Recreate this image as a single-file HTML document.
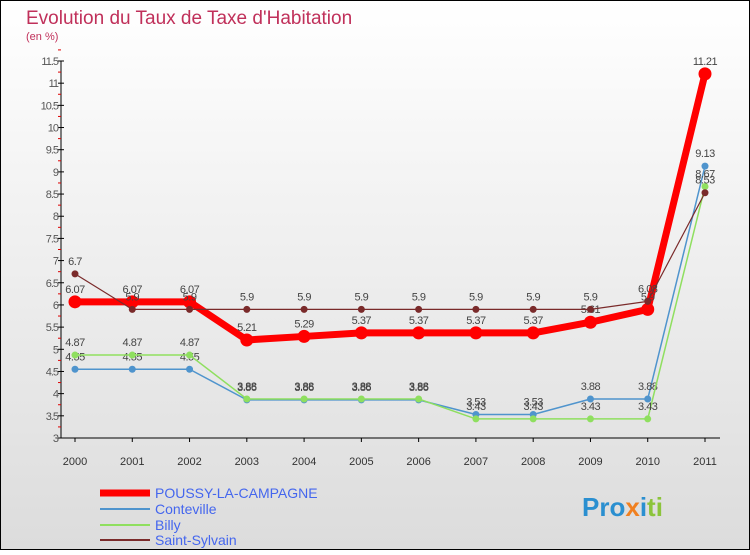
<!DOCTYPE html>
<html><head><meta charset="utf-8"><style>
body{margin:0}
#c{width:750px;height:550px;position:relative;font-family:"Liberation Sans",sans-serif;}
svg text{font-family:"Liberation Sans",sans-serif}
</style></head><body>
<div id="c">
<svg id="s" width="750" height="550" xmlns="http://www.w3.org/2000/svg">
<defs><linearGradient id="bg" x1="0" y1="0" x2="0" y2="1"><stop offset="0" stop-color="#ffffff"/><stop offset="1" stop-color="#dcdcdc"/></linearGradient></defs>
<rect x="0.5" y="0.5" width="749" height="549" fill="url(#bg)" stroke="#000"/>
<text x="26" y="24" font-size="19" fill="#c0305a">Evolution du Taux de Taxe d'Habitation</text>
<text x="26" y="40" font-size="11" fill="#c0305a">(en %)</text>
<g id="axes"></g><g id="series"></g>
<g>
<line x1="100" y1="493" x2="150" y2="493" stroke="#f00" stroke-width="7"/>
<text x="155" y="498" font-size="14" fill="#4466ee">POUSSY-LA-CAMPAGNE</text>
<line x1="100" y1="509" x2="150" y2="509" stroke="#4f94cd" stroke-width="2"/>
<text x="155" y="514" font-size="14" fill="#4466ee">Conteville</text>
<line x1="100" y1="525" x2="150" y2="525" stroke="#8fdf5f" stroke-width="2"/>
<text x="155" y="530" font-size="14" fill="#4466ee">Billy</text>
<line x1="100" y1="540" x2="150" y2="540" stroke="#7a2a2a" stroke-width="2"/>
<text x="155" y="545" font-size="14" fill="#4466ee">Saint-Sylvain</text>
</g>
<text x="582" y="516" font-size="26" font-weight="bold"><tspan fill="#2a8fd0">Pro</tspan><tspan fill="#f08020">x</tspan><tspan fill="#2a8fd0">i</tspan><tspan fill="#8cc43c">ti</tspan></text>
</svg></div>
<script>
const years=["2000","2001","2002","2003","2004","2005","2006","2007","2008","2009","2010","2011"];
const poussy=[6.07,6.07,6.07,5.21,5.29,5.37,5.37,5.37,5.37,5.61,5.9,11.21];
const conteville=[4.55,4.55,4.55,3.86,3.86,3.86,3.86,3.53,3.53,3.88,3.88,9.13];
const billy=[4.87,4.87,4.87,3.88,3.88,3.88,3.88,3.43,3.43,3.43,3.43,8.67];
const sylvain=[6.7,5.9,5.9,5.9,5.9,5.9,5.9,5.9,5.9,5.9,6.08,8.53];
const yTicks=[3,3.5,4,4.5,5,5.5,6,6.5,7,7.5,8,8.5,9,9.5,10,10.5,11,11.5];
const NS="http://www.w3.org/2000/svg";
const X=i=>75+i*(630/11);
const Y=v=>438-(v-3)*(377/8.5);
function mk(t,a,p){const e=document.createElementNS(NS,t);for(const k in a)e.setAttribute(k,a[k]);p.appendChild(e);return e;}
const ax=document.getElementById('axes');
const yl=mk('line',{x1:61,y1:Y(11.5),x2:61,y2:438,stroke:'#000'},ax);


const xl=mk('line',{x1:61,y1:438,x2:720,y2:438,stroke:'#000'},ax);


yTicks.forEach(v=>{
  mk('line',{x1:58,y1:Y(v),x2:64,y2:Y(v),stroke:'#000'},ax);
  mk('line',{x1:58,y1:Y(v+0.25),x2:61,y2:Y(v+0.25),stroke:'#d00'},ax);
  const t=mk('text',{x:58,y:Y(v)+4,'font-size':11,fill:'#555','text-anchor':'end','letter-spacing':'-1'},ax);
  t.textContent=String(v);
  
  
});
years.forEach((y,i)=>{
  mk('line',{x1:X(i),y1:438,x2:X(i),y2:442,stroke:'#000'},ax);
  const t=mk('text',{x:X(i),y:465,'font-size':11,fill:'#333','text-anchor':'middle'},ax);
  t.textContent=y;
  
  
});
const sg=document.getElementById('series');
function draw(vals,color,w,r,name){
  const g=mk('g',{},sg);
  
  
  mk('polyline',{points:vals.map((v,i)=>X(i)+','+Y(v)).join(' '),fill:'none',stroke:color,'stroke-width':w,'stroke-linejoin':'round'},g);
  vals.forEach((v,i)=>{
    const c=mk('circle',{cx:X(i),cy:Y(v),r:r,fill:color},g);
    
    
    const t=mk('text',{x:X(i),y:Y(v)-9,'font-size':11,fill:'#444','text-anchor':'middle','letter-spacing':'-0.5'},g);
    t.textContent=String(v);
    
    
  });
}
draw(conteville,'#4f94cd',1.5,3.5,'conteville');
draw(billy,'#8fdf5f',1.5,3.5,'billy');
draw(poussy,'#ff0000',7,6.5,'poussy');
draw(sylvain,'#7a2a2a',1.2,3.5,'saint-sylvain');
</script>
</body></html>
